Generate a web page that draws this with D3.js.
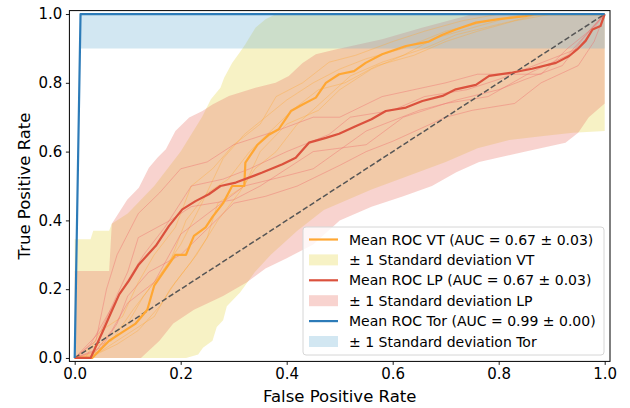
<!DOCTYPE html>
<html>
<head>
<meta charset="utf-8">
<script src="https://cdn.jsdelivr.net/npm/d3@7"></script>
<style>
  body { margin: 0; background: #fff; }
  svg { font-family: "DejaVu Sans", sans-serif; }
</style>
</head>
<body>
<svg id="canvas" width="630" height="408"></svg>
<script>
// mean curves
let vtMeanX = [0, 0.033, 0.065, 0.09, 0.115, 0.137, 0.15, 0.172, 0.19, 0.21, 0.225, 0.247, 0.26, 0.28, 0.297, 0.32, 0.322, 0.345, 0.367, 0.385, 0.408, 0.43, 0.455, 0.474, 0.499, 0.527, 0.549, 0.58, 0.625, 0.668, 0.694, 0.719, 0.757, 0.80, 0.85, 0.87, 1.0]
let vtMeanY = [0, 0, 0.05, 0.075, 0.10, 0.14, 0.21, 0.26, 0.30, 0.30, 0.355, 0.38, 0.41, 0.45, 0.50, 0.50, 0.568, 0.62, 0.65, 0.665, 0.718, 0.737, 0.757, 0.80, 0.825, 0.834, 0.858, 0.883, 0.907, 0.92, 0.94, 0.955, 0.975, 0.985, 0.994, 1.0, 1.0]

let lpMeanX = [0, 0.03, 0.052, 0.068, 0.084, 0.102, 0.121, 0.153, 0.178, 0.203, 0.228, 0.253, 0.275, 0.304, 0.354, 0.392, 0.417, 0.442, 0.474, 0.499, 0.53, 0.56, 0.587, 0.625, 0.656, 0.694, 0.719, 0.757, 0.782, 0.826, 0.863, 0.908, 0.933, 0.948, 0.964, 0.977, 0.992, 1.0]
let lpMeanY = [0, 0, 0.074, 0.13, 0.185, 0.224, 0.272, 0.326, 0.384, 0.432, 0.456, 0.476, 0.50, 0.51, 0.539, 0.563, 0.582, 0.626, 0.64, 0.652, 0.674, 0.694, 0.718, 0.728, 0.747, 0.762, 0.781, 0.794, 0.82, 0.83, 0.841, 0.858, 0.878, 0.897, 0.922, 0.955, 0.965, 1.0]

let torMeanX = [0, 0.011, 1.0]
let torMeanY = [0, 1.0, 1.0]

// +/- 1 std bands (upper and lower edges)
let vtUpperX = [0, 0.03, 0.035, 0.065, 0.07, 0.1, 0.15, 0.2, 0.24, 0.257, 0.275, 0.282, 0.297, 0.313, 0.322, 0.341, 0.36, 0.38, 1.0]
let vtUpperY = [0.345, 0.345, 0.37, 0.37, 0.39, 0.42, 0.5, 0.6, 0.70, 0.752, 0.786, 0.815, 0.858, 0.892, 0.912, 0.96, 0.985, 1.0, 1.0]
let vtLowerX = [0, 0.21, 0.233, 0.242, 0.26, 0.268, 0.28, 0.287, 0.312, 0.34, 0.37, 0.42, 0.47, 0.56, 0.63, 0.70, 0.76, 0.82, 0.88, 0.94, 1.0]
let vtLowerY = [0, 0, 0.01, 0.03, 0.05, 0.09, 0.11, 0.15, 0.19, 0.25, 0.30, 0.37, 0.43, 0.49, 0.53, 0.57, 0.61, 0.634, 0.645, 0.655, 0.66]

let lpUpperX = [0, 0.065, 0.07, 0.074, 0.099, 0.121, 0.14, 0.156, 0.172, 0.19, 0.216, 0.241, 0.26, 0.291, 0.341, 0.379, 0.404, 0.43, 0.455, 0.492, 0.58, 0.655, 0.738, 0.75, 1.0]
let lpUpperY = [0.253, 0.253, 0.39, 0.40, 0.46, 0.495, 0.553, 0.582, 0.607, 0.66, 0.699, 0.718, 0.737, 0.762, 0.786, 0.80, 0.82, 0.858, 0.883, 0.897, 0.927, 0.96, 0.994, 1.0, 1.0]
let lpLowerX = [0, 0.125, 0.16, 0.186, 0.225, 0.28, 0.325, 0.36, 0.40, 0.45, 0.50, 0.56, 0.62, 0.674, 0.72, 0.763, 0.851, 0.926, 0.95, 0.97, 1.0]
let lpLowerY = [0, 0, 0.05, 0.10, 0.14, 0.18, 0.22, 0.26, 0.29, 0.33, 0.40, 0.44, 0.47, 0.50, 0.54, 0.57, 0.60, 0.626, 0.655, 0.70, 0.74]

let torUpperX = [0, 0.011, 1.0]
let torUpperY = [0.1, 1.0, 1.0]
let torLowerX = [0, 0.011, 1.0]
let torLowerY = [0, 0.9, 0.9]

// single folds (thin lines), [fpr, tpr]
let vtFolds = [
  [[0,0],[0.03,0],[0.06,0.06],[0.1,0.1],[0.13,0.18],[0.16,0.24],[0.2,0.33],[0.24,0.45],[0.28,0.58],[0.32,0.65],[0.36,0.7],[0.4,0.75],[0.45,0.8],[0.5,0.84],[0.55,0.87],[0.62,0.9],[0.7,0.95],[0.78,0.98],[0.85,1],[1,1]],
  [[0,0],[0.05,0.02],[0.1,0.07],[0.15,0.12],[0.18,0.2],[0.22,0.28],[0.25,0.35],[0.27,0.45],[0.32,0.5],[0.35,0.6],[0.4,0.68],[0.46,0.72],[0.5,0.78],[0.56,0.84],[0.62,0.88],[0.68,0.93],[0.75,0.96],[0.82,0.99],[0.87,1],[1,1]],
  [[0,0],[0.02,0],[0.05,0.08],[0.09,0.12],[0.12,0.22],[0.15,0.3],[0.19,0.38],[0.22,0.5],[0.26,0.55],[0.3,0.62],[0.35,0.68],[0.38,0.76],[0.43,0.8],[0.48,0.86],[0.53,0.88],[0.6,0.92],[0.66,0.95],[0.73,0.98],[0.8,1],[1,1]],
  [[0,0],[0.04,0.01],[0.08,0.04],[0.12,0.08],[0.16,0.15],[0.19,0.22],[0.23,0.3],[0.27,0.4],[0.31,0.48],[0.34,0.55],[0.38,0.6],[0.42,0.68],[0.47,0.75],[0.52,0.82],[0.58,0.86],[0.66,0.9],[0.72,0.94],[0.8,0.97],[0.88,1],[1,1]],
  [[0,0],[0.03,0.03],[0.07,0.05],[0.11,0.14],[0.14,0.2],[0.18,0.28],[0.21,0.4],[0.25,0.48],[0.29,0.52],[0.33,0.6],[0.37,0.66],[0.41,0.72],[0.46,0.78],[0.51,0.8],[0.57,0.85],[0.64,0.88],[0.7,0.92],[0.76,0.95],[0.83,0.98],[0.9,1],[1,1]]
]
let lpFolds = [
  [[0,0],[0.04,0.05],[0.06,0.2],[0.08,0.3],[0.12,0.42],[0.16,0.48],[0.2,0.55],[0.25,0.57],[0.3,0.62],[0.38,0.66],[0.45,0.7],[0.5,0.7],[0.58,0.76],[0.7,0.8],[0.76,0.825],[0.88,0.825],[0.93,0.9],[0.97,0.95],[1,1]],
  [[0,0],[0.05,0.08],[0.07,0.15],[0.1,0.25],[0.12,0.35],[0.18,0.4],[0.22,0.44],[0.3,0.46],[0.35,0.5],[0.4,0.55],[0.45,0.6],[0.55,0.62],[0.62,0.7],[0.72,0.75],[0.8,0.78],[0.85,0.81],[0.92,0.85],[0.96,0.93],[1,1]],
  [[0,0],[0.05,0.03],[0.08,0.1],[0.1,0.18],[0.14,0.25],[0.2,0.3],[0.24,0.36],[0.3,0.45],[0.36,0.47],[0.42,0.5],[0.5,0.56],[0.55,0.6],[0.6,0.63],[0.7,0.7],[0.75,0.72],[0.83,0.74],[0.88,0.8],[0.95,0.85],[0.98,0.92],[1,1]],
  [[0,0],[0.03,0.04],[0.06,0.12],[0.09,0.2],[0.13,0.3],[0.17,0.38],[0.22,0.5],[0.28,0.52],[0.33,0.55],[0.4,0.6],[0.48,0.65],[0.52,0.7],[0.6,0.72],[0.66,0.76],[0.74,0.78],[0.8,0.81],[0.9,0.87],[0.95,0.9],[1,1]],
  [[0,0],[0.04,0.02],[0.07,0.08],[0.1,0.16],[0.15,0.22],[0.2,0.36],[0.26,0.43],[0.32,0.5],[0.4,0.53],[0.45,0.55],[0.55,0.66],[0.65,0.72],[0.7,0.74],[0.78,0.76],[0.86,0.83],[0.93,0.88],[0.97,0.95],[1,1]]
]

let xTicks = [0, 0.2, 0.4, 0.6, 0.8, 1.0]
let yTicks = [0, 0.2, 0.4, 0.6, 0.8, 1.0]
let legendLabels = [
  "Mean ROC VT (AUC = 0.67 \u00b1 0.03)",
  "\u00b1 1 Standard deviation VT",
  "Mean ROC LP (AUC = 0.67 \u00b1 0.03)",
  "\u00b1 1 Standard deviation LP",
  "Mean ROC Tor (AUC = 0.99 \u00b1 0.00)",
  "\u00b1 1 Standard deviation Tor"
]

let svg = d3.select('#canvas')
let mLeft = 69.4, mRight = 610, mTop = 10.6, mBottom = 361.4

let x = d3.scaleLinear().domain([-0.01, 1.01]).range([mLeft, mRight])
let y = d3.scaleLinear().domain([-0.01, 1.01]).range([mBottom, mTop])

let zip = (xs, ys) => xs.map((v, i) => [v, ys[i]])
let line = d3.line().x(d => x(d[0])).y(d => y(d[1]))

svg.append('clipPath').attr('id', 'clip')
   .append('rect').attr('x', mLeft).attr('y', mTop).attr('width', mRight - mLeft).attr('height', mBottom - mTop)

let plot = svg.append('g').attr('clip-path', 'url(#clip)')

let drawBand = (ux, uy, lx, ly, fill, op) => {
  let pts = zip(ux, uy).concat(zip(lx, ly).reverse())
  plot.append('path')
      .attr('d', line(pts) + 'Z')
      .attr('fill', fill)
      .attr('fill-opacity', op)
}

// bands
drawBand(vtUpperX, vtUpperY, vtLowerX, vtLowerY, '#f0e68c', 0.5)
drawBand(lpUpperX, lpUpperY, lpLowerX, lpLowerY, '#eb786e', 0.33)
drawBand(torUpperX, torUpperY, torLowerX, torLowerY, '#74b3d6', 0.32)

// folds
vtFolds.forEach(f => {
  plot.append('path').attr('d', line(f))
      .attr('fill', 'none').attr('stroke', '#ffa733').attr('stroke-opacity', 0.45).attr('stroke-width', 0.8)
})
lpFolds.forEach(f => {
  plot.append('path').attr('d', line(f))
      .attr('fill', 'none').attr('stroke', '#f07070').attr('stroke-opacity', 0.55).attr('stroke-width', 0.8)
})

// chance line
plot.append('path').attr('d', line([[0, 0], [1, 1]]))
    .attr('fill', 'none').attr('stroke', '#555').attr('stroke-width', 1.5).attr('stroke-dasharray', '5.5,2.5')

// means
let means = [
  [vtMeanX, vtMeanY, '#ffa733'],
  [lpMeanX, lpMeanY, '#db513d'],
  [torMeanX, torMeanY, '#2c7bb8']
]
means.forEach(m => {
  plot.append('path').attr('d', line(zip(m[0], m[1])))
      .attr('fill', 'none').attr('stroke', m[2]).attr('stroke-width', 2.2)
      .attr('stroke-linejoin', 'round')
})

// axes
let xAxis = d3.axisBottom(x).tickValues(xTicks).tickFormat(d3.format('.1f')).tickSize(3.5).tickPadding(3.5)
let yAxis = d3.axisLeft(y).tickValues(yTicks).tickFormat(d3.format('.1f')).tickSize(3.5).tickPadding(3.5)

let gx = svg.append('g').attr('transform', `translate(0,${mBottom})`).call(xAxis)
let gy = svg.append('g').attr('transform', `translate(${mLeft},0)`).call(yAxis)
;[gx, gy].forEach(g => {
  g.select('.domain').remove()
  g.selectAll('text').attr('font-size', 15).attr('font-family', 'DejaVu Sans').attr('fill', '#000')
  g.selectAll('line').attr('stroke', '#000').attr('stroke-width', 0.9)
})

svg.append('rect')
   .attr('x', mLeft).attr('y', mTop).attr('width', mRight - mLeft).attr('height', mBottom - mTop)
   .attr('fill', 'none').attr('stroke', '#000').attr('stroke-width', 1)

svg.append('text').attr('x', (mLeft + mRight) / 2).attr('y', 402)
   .attr('text-anchor', 'middle').attr('font-size', 16.5).text('False Positive Rate')
svg.append('text').attr('transform', `translate(30,${(mTop + mBottom) / 2}) rotate(-90)`)
   .attr('text-anchor', 'middle').attr('font-size', 16.5).text('True Positive Rate')

// legend
let lg = svg.append('g').attr('transform', 'translate(303,227)')
lg.append('rect').attr('width', 301).attr('height', 128).attr('rx', 3)
  .attr('fill', '#fff').attr('fill-opacity', 0.8).attr('stroke', '#d6d6d6').attr('stroke-width', 1)

let handles = [
  {type: 'line', color: '#ffa733'},
  {type: 'patch', color: '#f0e68c', op: 0.5},
  {type: 'line', color: '#db513d'},
  {type: 'patch', color: '#eb786e', op: 0.33},
  {type: 'line', color: '#2c7bb8'},
  {type: 'patch', color: '#74b3d6', op: 0.32}
]
legendLabels.forEach((lab, i) => {
  let yy = 12.5 + i * 20.4
  let h = handles[i]
  if (h.type === 'line') {
    lg.append('line').attr('x1', 6).attr('x2', 35).attr('y1', yy).attr('y2', yy)
      .attr('stroke', h.color).attr('stroke-width', 2.2)
  } else {
    lg.append('rect').attr('x', 6).attr('y', yy - 5.5).attr('width', 29).attr('height', 11)
      .attr('fill', h.color).attr('fill-opacity', h.op)
  }
  lg.append('text').attr('x', 46).attr('y', yy + 5).attr('font-size', 14).text(lab)
})
</script>
</body>
</html>
